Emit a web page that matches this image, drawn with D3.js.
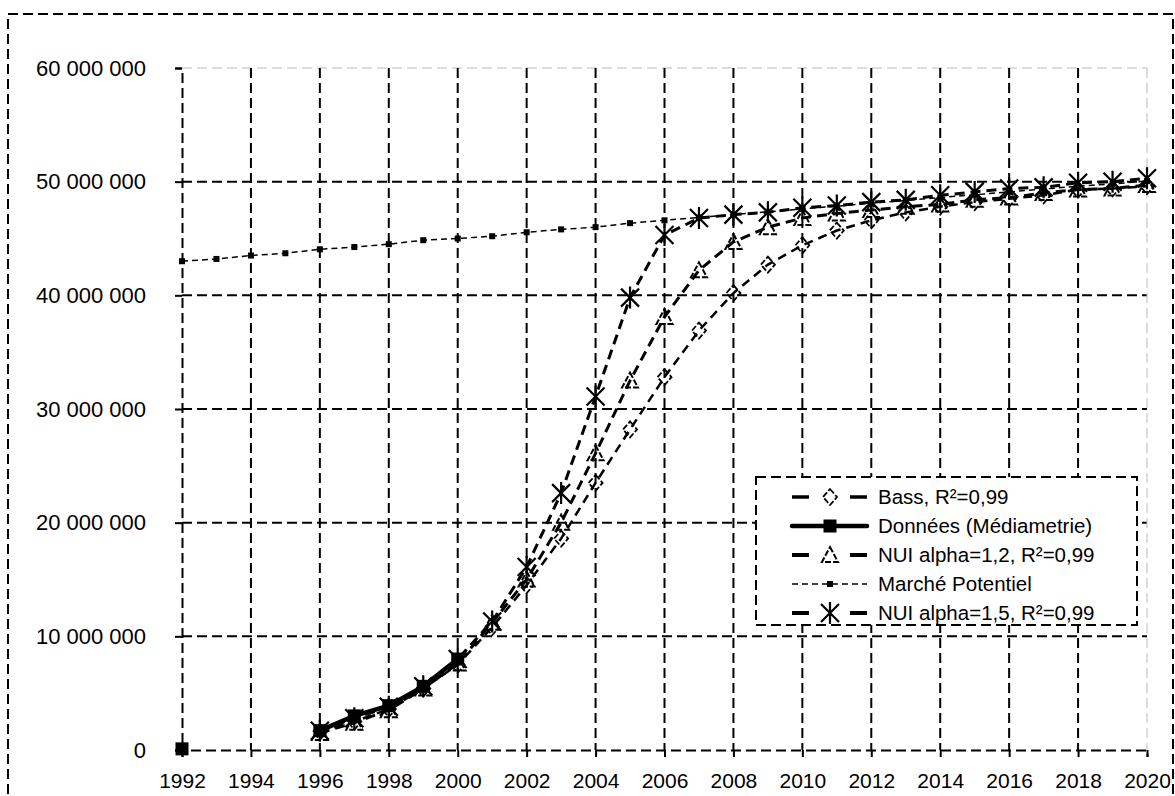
<!DOCTYPE html>
<html>
<head>
<meta charset="utf-8">
<script src="https://cdn.jsdelivr.net/npm/d3@7"></script>
<style>
  body { margin: 0; background: #fff; }
  svg text { font-family: "Liberation Sans", Arial, sans-serif; fill: #000; }
</style>
</head>
<body>
<div id="chart"></div>
<script>
// years on the x axis
var years = [1992,1993,1994,1995,1996,1997,1998,1999,2000,2001,2002,2003,2004,2005,2006,
             2007,2008,2009,2010,2011,2012,2013,2014,2015,2016,2017,2018,2019,2020];

// values (null = no point)
var bass = [null,null,null,null,1.6e6,2.5e6,3.6e6,5.4e6,7.5e6,10.8e6,14.5e6,18.6e6,23.5e6,28.2e6,32.8e6,
            36.9e6,40.2e6,42.7e6,44.4e6,45.7e6,46.6e6,47.3e6,47.8e6,48.2e6,48.5e6,48.8e6,49.3e6,49.4e6,49.6e6];
var donnees = [0.1e6,null,null,null,1.7e6,3.0e6,3.9e6,5.6e6,8.0e6,null,null,null,null,null,null,
               null,null,null,null,null,null,null,null,null,null,null,null,null,null];
var nui12 = [null,null,null,null,1.5e6,2.4e6,3.5e6,5.4e6,7.6e6,11.2e6,15.0e6,20.0e6,26.1e6,32.5e6,38.1e6,
             42.2e6,44.7e6,46.0e6,46.8e6,47.2e6,47.5e6,47.8e6,48.0e6,48.4e6,48.6e6,49.0e6,49.3e6,49.4e6,49.7e6];
var marche = [43.0e6,43.2e6,43.5e6,43.7e6,44.05e6,44.25e6,44.5e6,44.85e6,45.0e6,45.2e6,45.55e6,45.8e6,46.0e6,46.35e6,46.6e6,
              46.85e6,47.1e6,47.35e6,47.6e6,47.85e6,48.1e6,48.35e6,48.6e6,48.85e6,49.1e6,49.35e6,49.6e6,49.8e6,50.05e6];
var nui15 = [null,null,null,null,1.7e6,2.8e6,3.8e6,5.6e6,8.0e6,11.3e6,16.1e6,22.6e6,31.1e6,39.8e6,45.3e6,
             46.8e6,47.1e6,47.3e6,47.7e6,47.9e6,48.2e6,48.4e6,48.8e6,49.1e6,49.4e6,49.5e6,49.9e6,50.0e6,50.3e6];

var xTicks = [1992,1994,1996,1998,2000,2002,2004,2006,2008,2010,2012,2014,2016,2018,2020];
var yTicks = [0,10e6,20e6,30e6,40e6,50e6,60e6];

var legendLabels = ["Bass, R²=0,99", "Données (Médiametrie)", "NUI alpha=1,2, R²=0,99",
                    "Marché Potentiel", "NUI alpha=1,5, R²=0,99"];

var W = 1175, H = 796;
var x = d3.scaleLinear().domain([1992, 2020]).range([182, 1147]);
var y = d3.scaleLinear().domain([0, 60e6]).range([750, 68]);

var svg = d3.select("#chart").append("svg")
    .attr("width", W)
    .attr("height", H);

// outer chart border
svg.append("rect")
    .attr("x", 8).attr("y", 14)
    .attr("width", 1165).attr("height", 800)
    .attr("fill", "none")
    .attr("stroke", "#000")
    .attr("stroke-width", 2)
    .attr("stroke-dasharray", "10,5");

var grid = svg.append("g");

// horizontal gridlines
grid.selectAll("line.h")
    .data(yTicks.filter(d => d > 0))
    .enter().append("line")
    .attr("x1", 182).attr("x2", 1147)
    .attr("y1", d => y(d)).attr("y2", d => y(d))
    .attr("stroke", d => d == 60e6 ? "#bbb" : "#000")
    .attr("stroke-width", d => d == 60e6 ? 1 : 2)
    .attr("stroke-dasharray", "10,5");

// vertical gridlines
grid.selectAll("line.v")
    .data(xTicks.filter(d => d > 1992))
    .enter().append("line")
    .attr("x1", d => x(d)).attr("x2", d => x(d))
    .attr("y1", 68).attr("y2", 750)
    .attr("stroke", d => d == 2020 ? "#bbb" : "#000")
    .attr("stroke-width", d => d == 2020 ? 1 : 2)
    .attr("stroke-dasharray", "10,5");

// x axis
var xAxis = svg.append("g")
    .attr("transform", "translate(0,750)")
    .call(d3.axisBottom(x).tickValues(xTicks).tickFormat(d3.format("d")).tickSize(7).tickPadding(16));
xAxis.select(".domain").attr("stroke-width", 2).attr("stroke-dasharray", "10,5");
xAxis.selectAll(".tick line").attr("stroke-width", 2);
xAxis.selectAll("text").style("font-size", "21px");

// y axis
var fmt = d3.format(",");
var yAxis = svg.append("g")
    .attr("transform", "translate(182,0)")
    .call(d3.axisLeft(y).tickValues(yTicks).tickFormat(d => fmt(d).replace(/,/g, " ")).tickSize(7).tickPadding(29));
yAxis.select(".domain").attr("stroke-width", 2).attr("stroke-dasharray", "10,5");
yAxis.selectAll(".tick line").attr("stroke-width", 2);
yAxis.selectAll("text").style("font-size", "22px");

// series styles
var series = [
  { name: legendLabels[0], values: bass,    width: 2.5, dash: "9,6", marker: "diamond" },
  { name: legendLabels[1], values: donnees, width: 4.5, dash: null,  marker: "square" },
  { name: legendLabels[2], values: nui12,   width: 3,   dash: "10,6", marker: "triangle" },
  { name: legendLabels[3], values: marche,  width: 1.5, dash: "6,4", marker: "small" },
  { name: legendLabels[4], values: nui15,   width: 3,   dash: "10,6", marker: "star" }
];

var line = d3.line()
    .defined(d => d.v != null)
    .x(d => x(d.year))
    .y(d => y(d.v));

function drawMarker(g, type, cx, cy) {
  var m = g.append("g").attr("transform", "translate(" + cx + "," + cy + ")");
  if (type == "diamond") {
    m.append("path").attr("d", "M0,-8L7,0L0,8L-7,0Z")
      .attr("fill", "none").attr("stroke", "#000").attr("stroke-width", 1.8)
      .attr("stroke-dasharray", "6,2");
  } else if (type == "square") {
    m.append("rect").attr("x", -6.5).attr("y", -6.5).attr("width", 13).attr("height", 13)
      .attr("fill", "#000");
  } else if (type == "triangle") {
    m.append("path").attr("d", "M0,-8L8,7L-8,7Z")
      .attr("fill", "none").attr("stroke", "#000").attr("stroke-width", 2)
      .attr("stroke-dasharray", "6,2");
  } else if (type == "small") {
    m.append("rect").attr("x", -3).attr("y", -3).attr("width", 6).attr("height", 6)
      .attr("fill", "#000");
  } else if (type == "star") {
    m.append("path").attr("d", "M0,-11V11M-9,-9L9,9M-9,9L9,-9")
      .attr("fill", "none").attr("stroke", "#000").attr("stroke-width", 2.2);
  }
}

series.forEach(s => {
  var pts = years.map((yr, i) => ({ year: yr, v: s.values[i] }));
  var g = svg.append("g");
  g.append("path")
    .datum(pts)
    .attr("d", line)
    .attr("fill", "none")
    .attr("stroke", "#000")
    .attr("stroke-width", s.width)
    .attr("stroke-dasharray", s.dash);
  pts.filter(d => d.v != null).forEach(d => drawMarker(g, s.marker, x(d.year), y(d.v)));
});

// legend
var lg = svg.append("g");
lg.append("rect")
    .attr("x", 756).attr("y", 477)
    .attr("width", 381).attr("height", 148)
    .attr("fill", "#fff")
    .attr("stroke", "#000")
    .attr("stroke-width", 2)
    .attr("stroke-dasharray", "10,5");

series.forEach((s, i) => {
  var cy = 497 + i * 29;
  if (s.dash == null) {
    lg.append("line").attr("x1", 792).attr("x2", 867).attr("y1", cy).attr("y2", cy)
      .attr("stroke", "#000").attr("stroke-width", s.width).attr("stroke-linecap", "round");
  } else if (s.marker == "small") {
    lg.append("line").attr("x1", 792).attr("x2", 867).attr("y1", cy).attr("y2", cy)
      .attr("stroke", "#000").attr("stroke-width", s.width).attr("stroke-dasharray", s.dash);
  } else {
    [[792, 809], [850, 867]].forEach(seg => {
      lg.append("line").attr("x1", seg[0]).attr("x2", seg[1]).attr("y1", cy).attr("y2", cy)
        .attr("stroke", "#000").attr("stroke-width", s.width + 1);
    });
  }
  drawMarker(lg, s.marker, 830, cy);
  lg.append("text")
    .attr("x", 878).attr("y", cy)
    .attr("dy", "0.35em")
    .style("font-size", "20.5px")
    .text(s.name);
});
</script>
</body>
</html>
